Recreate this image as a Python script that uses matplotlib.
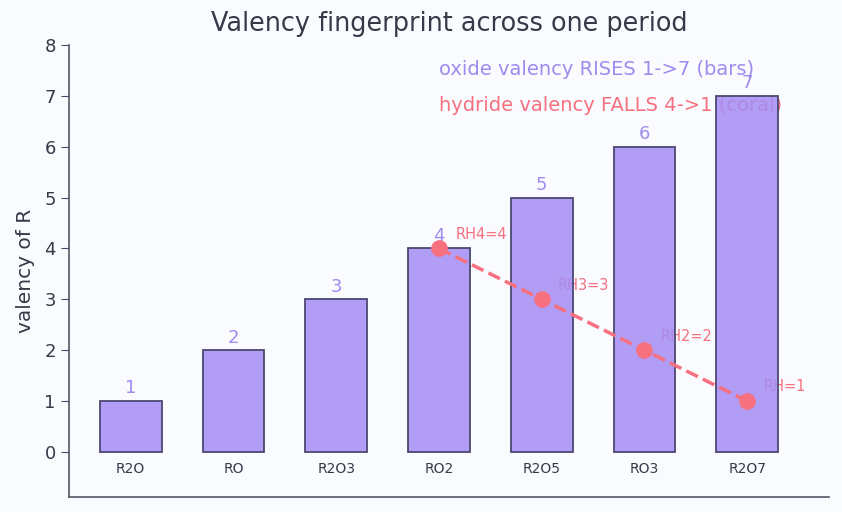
import numpy as np
import matplotlib.pyplot as plt
from matplotlib.colors import to_rgba

# oxides across one period and the valency of R in each
oxides = ['R2O', 'RO', 'R2O3', 'RO2', 'R2O5', 'RO3', 'R2O7']
oxide_valency = [1, 2, 3, 4, 5, 6, 7]
hydride_idx = [3, 4, 5, 6]
hydride_valency = [4, 3, 2, 1]
hydride_labels = ['RH4=4', 'RH3=3', 'RH2=2', 'RH=1']

bg = '#fafbfe'
bar_col = to_rgba('#a48cf5', 0.85)
edge_col = '#4b4870'
val_col = '#9d8cee'
coral = '#f7707f'
dark = '#343a48'

fig, ax = plt.subplots(figsize=(8.42, 5.12), dpi=100)
fig.patch.set_facecolor(bg)
ax.set_facecolor(bg)

x = np.arange(len(oxides))
ax.bar(x, oxide_valency, width=0.6, color=bar_col, edgecolor=edge_col, linewidth=1.3, zorder=2)
for xi, v in zip(x, oxide_valency):
    ax.text(xi, v + 0.07, str(v), ha='center', va='bottom', color=val_col, fontsize=13, zorder=1)
for xi, name in zip(x, oxides):
    ax.text(xi, -0.2, name, ha='center', va='top', color=dark, fontsize=10)

ax.plot(hydride_idx, hydride_valency, color=coral, ls='--', lw=2.5, marker='o',
        markersize=11, zorder=3)
for xi, v, lab in zip(hydride_idx, hydride_valency, hydride_labels):
    ax.text(xi + 0.16, v + 0.13, lab, color=coral, fontsize=10.5, ha='left', va='bottom', zorder=1)

ax.text(0.487, 0.945, 'oxide valency RISES 1->7 (bars)', transform=ax.transAxes,
        color=val_col, fontsize=14, va='center', zorder=1)
ax.text(0.487, 0.867, 'hydride valency FALLS 4->1 (coral)', transform=ax.transAxes,
        color=coral, fontsize=14, va='center', zorder=1)

ax.set_xlim(-0.6, 6.8)
ax.set_ylim(-0.88, 8)
ax.set_yticks(range(0, 9))
ax.set_xticks([])
ax.tick_params(axis='y', labelsize=13, colors=dark, color=edge_col, length=6)
ax.set_ylabel('valency of R', fontsize=14.5, color=dark, labelpad=7)
ax.set_title('Valency fingerprint across one period', fontsize=18.4, color=dark, pad=10)
for s in ['top', 'right']:
    ax.spines[s].set_visible(False)
for s in ['left', 'bottom']:
    ax.spines[s].set_color('#555566')
    ax.spines[s].set_linewidth(1.2)

fig.subplots_adjust(left=0.082, right=0.985, top=0.912, bottom=0.03)
fig.savefig('out.png', dpi=100, facecolor=bg)
